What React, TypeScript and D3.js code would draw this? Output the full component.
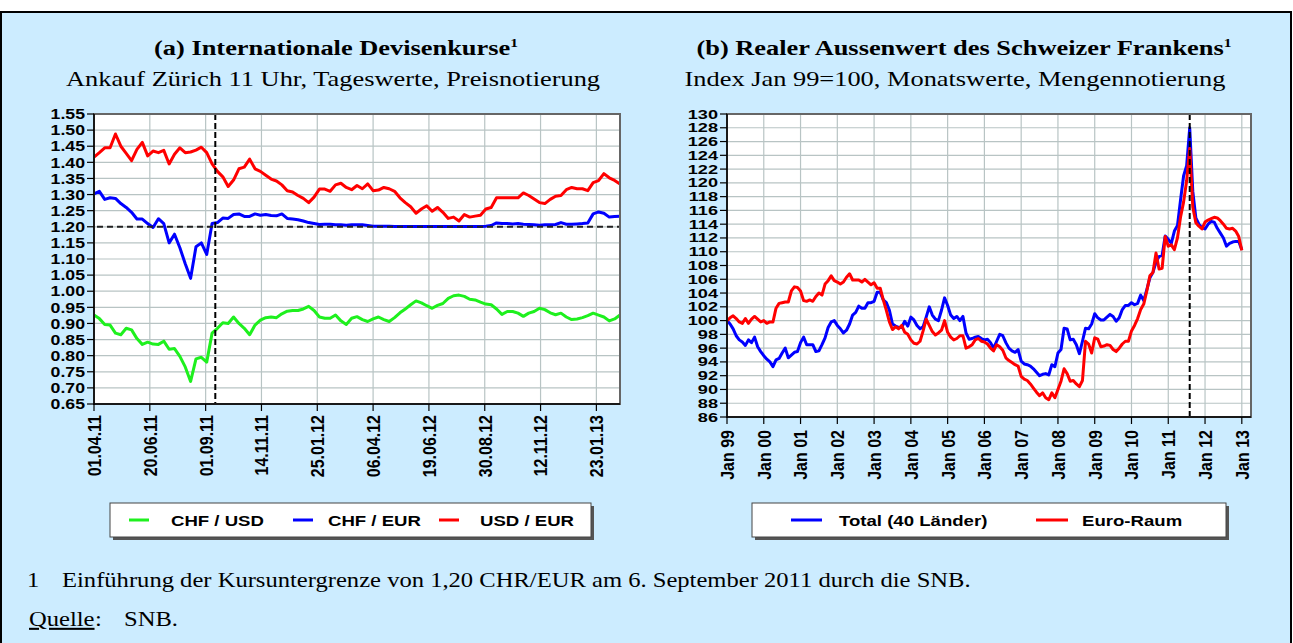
import React from 'react';
import * as d3 from 'd3';

// ---------- (a) daily FX rates, sampled weekly (5 trading days) ----------
const fxTickLabels = ['01.04.11', '20.06.11', '01.09.11', '14.11.11', '25.01.12', '06.04.12', '19.06.12', '30.08.12', '12.11.12', '23.01.13'];
const fxTickDays = [0, 52, 104, 156, 208, 260, 312, 364, 416, 468];
const fxYTicks = [0.65, 0.7, 0.75, 0.8, 0.85, 0.9, 0.95, 1.0, 1.05, 1.1, 1.15, 1.2, 1.25, 1.3, 1.35, 1.4, 1.45, 1.5, 1.55];
const fxFloorDay = 113;
const fxFloor = 1.2;
const fxStep = 5;

const usdEur = [
  1.416, 1.43, 1.445, 1.445, 1.488, 1.45, 1.428, 1.405, 1.44, 1.462,
  1.42, 1.435, 1.43, 1.437, 1.395, 1.425, 1.445, 1.43, 1.432, 1.438,
  1.447, 1.43, 1.395, 1.372, 1.355, 1.325, 1.345, 1.38, 1.385, 1.41,
  1.38, 1.372, 1.36, 1.348, 1.342, 1.33, 1.312, 1.308, 1.297, 1.288,
  1.275, 1.292, 1.317, 1.317, 1.31, 1.33, 1.335, 1.322, 1.315, 1.328,
  1.318, 1.333, 1.312, 1.314, 1.322, 1.318, 1.31, 1.29, 1.275, 1.262,
  1.242, 1.255, 1.265, 1.248, 1.26, 1.245, 1.226, 1.23, 1.218, 1.238,
  1.23, 1.233, 1.236, 1.255, 1.26, 1.29, 1.29, 1.29, 1.29, 1.29,
  1.305, 1.297, 1.286, 1.275, 1.272, 1.285, 1.295, 1.297, 1.315, 1.322,
  1.318, 1.318, 1.312, 1.337, 1.343, 1.365, 1.352, 1.344, 1.333,
];
const chfEur = [
  1.302, 1.31, 1.285, 1.29, 1.288, 1.272, 1.26, 1.245, 1.224, 1.224,
  1.21, 1.198, 1.225, 1.21, 1.15, 1.177, 1.135, 1.085, 1.04, 1.138,
  1.15, 1.114, 1.21, 1.213, 1.227, 1.226, 1.238, 1.24, 1.232, 1.232,
  1.24, 1.236, 1.238, 1.235, 1.234, 1.24, 1.226, 1.224, 1.222, 1.218,
  1.213, 1.21, 1.207, 1.208, 1.208, 1.206, 1.206, 1.205, 1.206, 1.206,
  1.206, 1.204, 1.202, 1.202, 1.202, 1.202, 1.201, 1.201, 1.201, 1.201,
  1.201, 1.201, 1.201, 1.201, 1.201, 1.201, 1.201, 1.201, 1.201, 1.201,
  1.201, 1.201, 1.201, 1.202, 1.204, 1.212, 1.21, 1.21, 1.209, 1.21,
  1.208, 1.207, 1.206, 1.205, 1.206, 1.206, 1.207, 1.213, 1.208, 1.208,
  1.209, 1.21, 1.212, 1.24, 1.246, 1.242, 1.23, 1.232, 1.233,
];
const chfUsd = [
  0.926, 0.915, 0.897, 0.895, 0.87, 0.865, 0.885, 0.88, 0.853, 0.835,
  0.842, 0.836, 0.835, 0.845, 0.82, 0.822, 0.798, 0.765, 0.72, 0.79,
  0.795, 0.78, 0.87, 0.885, 0.902, 0.9, 0.92, 0.9, 0.885, 0.865,
  0.895, 0.91, 0.918, 0.92, 0.918, 0.93, 0.938, 0.94, 0.94, 0.945,
  0.953, 0.94, 0.92, 0.916, 0.916, 0.926, 0.908, 0.897, 0.916, 0.921,
  0.912, 0.906, 0.914, 0.92, 0.912, 0.906, 0.918, 0.933, 0.945, 0.958,
  0.97, 0.964, 0.955, 0.947, 0.956, 0.962, 0.978, 0.986, 0.988, 0.984,
  0.975, 0.973, 0.966, 0.96, 0.958, 0.945, 0.928, 0.937, 0.937, 0.932,
  0.922, 0.932, 0.937, 0.947, 0.943, 0.933, 0.927, 0.932, 0.92, 0.912,
  0.914, 0.918, 0.924, 0.932, 0.926, 0.92, 0.908, 0.914, 0.926,
];

// ---------- (b) real effective CHF index, monthly Jan 99 .. Jan 13 ----------
const reerYears = ['99', '00', '01', '02', '03', '04', '05', '06', '07', '08', '09', '10', '11', '12', '13'];
const reerYTicks = [86, 88, 90, 92, 94, 96, 98, 100, 102, 104, 106, 108, 110, 112, 114, 116, 118, 120, 122, 124, 126, 128, 130];
const reerFloorMonth = 151;

const reerTotal = [
  100, 99.5, 98.8, 97.8, 97.2, 96.9, 96.4, 97.2, 96.8, 97.6,
  96.2, 95.5, 94.9, 94.4, 94.0, 93.3, 94.3, 94.5, 95.3, 96.0,
  94.6, 95.0, 95.4, 95.5, 96.8, 97.6, 96.5, 96.5, 96.5, 95.5,
  95.6, 96.5, 97.5, 99.0, 99.8, 100.0, 99.3, 98.8, 98.2, 98.6,
  99.5, 100.8, 101.2, 102.1, 101.8, 101.8, 102.6, 102.6, 102.8, 104.1,
  104.1, 103.0, 102.6, 101.5, 99.5, 99.2, 99.0, 99.0, 99.9, 99.2,
  100.5, 100.1, 99.3, 98.8, 99.1, 100.5, 102.0, 100.8, 100.2, 100.0,
  101.5, 103.3, 102.2, 100.8, 100.3, 100.6, 100.0, 100.6, 98.2, 97.3,
  97.4, 97.6, 97.7, 97.4, 97.2, 97.3, 96.8, 96.0, 97.0, 98.0,
  97.8, 96.8, 96.0, 95.6, 95.4, 95.8, 94.1, 93.7, 93.6, 93.4,
  93.0, 92.5, 92.0, 92.2, 92.3, 92.1, 93.6, 93.3, 95.3, 95.8,
  98.9, 98.8, 97.2, 97.3, 96.5, 95.2, 97.0, 98.9, 98.8, 99.5,
  101.0, 100.4, 100.1, 100.1, 100.5, 100.9, 100.6, 99.9, 100.4, 101.6,
  102.2, 102.2, 102.6, 102.3, 102.5, 103.7, 102.9, 104.5, 106.2, 107.0,
  108.5, 109.3, 109.5, 112.3, 111.8, 111.2, 113.0, 113.8, 117.5, 121.0,
  122.5, 128.0, 118.8, 114.9, 114.0, 113.5, 113.3, 114.0, 114.4, 114.3,
  113.4, 112.7, 112.0, 110.8, 111.2, 111.4, 111.5, 111.5, 110.3,
];
const reerEuro = [
  100, 100.4, 100.7, 100.3, 99.8, 99.6, 100.3, 99.6, 100.2, 100.6,
  100.2, 99.8, 100.0, 99.6, 99.8, 99.8, 101.8, 102.5, 102.6, 102.7,
  102.7, 104.3, 104.9, 104.8, 104.3, 102.9, 102.8, 103.0, 102.8, 103.5,
  104.0, 103.7, 105.3, 105.8, 106.5, 105.8, 105.6, 105.3, 105.6, 106.3,
  106.8, 105.9, 105.9, 105.9, 105.6, 106.0, 105.6, 105.2, 105.5, 104.7,
  104.7, 103.0, 101.5, 99.8, 98.7, 99.1, 98.8, 99.3, 98.3, 98.0,
  97.2, 96.7, 96.6, 97.0, 98.5, 100.2, 99.3, 98.4, 97.9, 98.2,
  98.6, 100.0, 98.3, 97.6, 97.2, 97.4, 97.8, 97.8, 96.0, 96.2,
  96.5, 97.2, 97.4, 97.0, 96.9, 96.6, 96.0, 95.6, 96.5, 96.2,
  95.7, 94.6, 94.2, 93.9, 93.6, 93.4, 91.9, 91.5, 91.3, 90.8,
  90.2, 89.6, 89.1, 89.5, 88.8, 88.5, 89.5, 88.8, 90.0, 91.2,
  93.0, 92.3, 91.2, 91.3, 90.8, 90.4, 91.3, 97.0, 96.6, 95.3,
  97.5, 97.3, 96.2, 96.3, 96.5, 96.4, 95.8, 95.5, 96.0, 96.6,
  97.0, 97.0, 98.5, 99.3, 100.3, 101.6, 102.4, 104.3, 106.5, 107.0,
  109.8, 107.5, 107.6, 112.2, 110.8, 111.0, 110.3, 112.0, 115.0, 117.2,
  120.3, 125.0, 116.5, 114.2, 113.7, 113.3, 114.3, 114.6, 114.8, 115.0,
  114.9, 114.5, 114.0, 113.4, 113.3, 113.4, 113.0, 112.2, 110.2,
];

// ---------- styling ----------
const S = 1.2; // horizontal text stretch of the original
const SANS = "'Liberation Sans', Arial, sans-serif";
const SERIF = "'Liberation Serif', 'Times New Roman', serif";
const BG = '#CCECFF';
const GRID = '#B8C4C4';
const GREEN = '#1EF01E';
const BLUE = '#0000FF';
const RED = '#FF0000';

function Txt(props: any) {
  const { x, y, size = 15, weight = 'bold', family = SANS, anchor = 'start', rotate = false, dy = 0, children, deco, sx = S } = props;
  return (
    <text
      transform={`translate(${x},${y}) scale(${sx},1)${rotate ? ' rotate(-90)' : ''}`}
      fontSize={size}
      fontWeight={weight}
      fontFamily={family}
      textAnchor={anchor}
      dy={dy}
      fill="#000"
      textDecoration={deco}
    >
      {children}
    </text>
  );
}

function Plot(props: any) {
  const { x0, x1, y0, y1, xs, ys, yTicks, yFmt, xTicks, xLabels, labelGap, ySize, ySx, children } = props;
  return (
    <g>
      <rect x={x0} y={y0} width={x1 - x0} height={y1 - y0} fill="#fff" />
      {yTicks.map((t: number, i: number) => (
        <line key={'gy' + i} x1={x0} x2={x1} y1={ys(t)} y2={ys(t)} stroke={GRID} strokeWidth={1.2} />
      ))}
      {xTicks.map((t: number, i: number) => (
        <line key={'gx' + i} x1={xs(t)} x2={xs(t)} y1={y0} y2={y1} stroke={GRID} strokeWidth={1.2} />
      ))}
      {children}
      <rect x={x0} y={y0} width={x1 - x0} height={y1 - y0} fill="none" stroke="#666" strokeWidth={2} />
      <line x1={x0} x2={x0} y1={y0} y2={y1 + 1} stroke="#000" strokeWidth={1.5} />
      <line x1={x0} x2={x1} y1={y1} y2={y1} stroke="#000" strokeWidth={1.5} />
      {yTicks.map((t: number, i: number) => (
        <g key={'ty' + i}>
          <line x1={x0 - 7} x2={x0} y1={ys(t)} y2={ys(t)} stroke="#000" strokeWidth={1.2} />
          <Txt x={x0 - 9} y={ys(t)} dy="0.36em" anchor="end" size={ySize} sx={ySx}>{yFmt(t)}</Txt>
        </g>
      ))}
      {xTicks.map((t: number, i: number) => (
        <g key={'tx' + i}>
          <line x1={xs(t)} x2={xs(t)} y1={y1} y2={y1 + 7} stroke="#000" strokeWidth={1.2} />
          <Txt x={xs(t)} y={y1 + labelGap} dy="0.36em" anchor="end" size={16} rotate>{xLabels[i]}</Txt>
        </g>
      ))}
    </g>
  );
}

export default function App() {
  // (a)
  const aX0 = 94, aX1 = 620, aY0 = 114, aY1 = 404;
  const xa = d3.scaleLinear().domain([0, 490]).range([aX0, aX1]);
  const ya = d3.scaleLinear().domain([0.65, 1.55]).range([aY1, aY0]);
  const lineA = d3.line<number>().x((_, i) => xa(i * fxStep)).y((v) => ya(v));

  // (b)
  const bX0 = 727, bX1 = 1251, bY0 = 114, bY1 = 417;
  const xb = d3.scaleLinear().domain([0, 171]).range([bX0, bX1]);
  const yb = d3.scaleLinear().domain([86, 130]).range([bY1, bY0]);
  const lineB = d3.line<number>().x((_, i) => xb(i)).y((v) => yb(v));
  const reerTickMonths = reerYears.map((_, i) => i * 12);

  const fs = 20.5;

  return (
    <svg width={1293} height={643} style={{ position: 'absolute', left: 0, top: 0, background: '#fff' }}>
      <rect x={1} y={12} width={1290} height={640} fill={BG} stroke="#000" strokeWidth={2} />

      {/* titles */}
      <Txt x={336} y={55} size={22} family={SERIF} anchor="middle">
        (a) Internationale Devisenkurse<tspan dy={-8} fontSize={13}>1</tspan>
      </Txt>
      <Txt x={333} y={86} size={22} weight="normal" family={SERIF} anchor="middle">
        Ankauf Zürich 11 Uhr, Tageswerte, Preisnotierung
      </Txt>
      <Txt x={964} y={55} size={22} family={SERIF} anchor="middle">
        (b) Realer Aussenwert des Schweizer Frankens<tspan dy={-8} fontSize={13}>1</tspan>
      </Txt>
      <Txt x={955} y={86} size={22} weight="normal" family={SERIF} anchor="middle">
        Index Jan 99=100, Monatswerte, Mengennotierung
      </Txt>

      {/* chart (a) */}
      <Plot
        x0={aX0} x1={aX1} y0={aY0} y1={aY1} xs={xa} ys={ya}
        yTicks={fxYTicks} yFmt={(t: number) => t.toFixed(2)}
        xTicks={fxTickDays} xLabels={fxTickLabels} labelGap={11} ySize={14.5} ySx={1.22}
      >
        <path d={lineA(usdEur) || ''} fill="none" stroke={RED} strokeWidth={3} strokeLinejoin="round" />
        <path d={lineA(chfEur) || ''} fill="none" stroke={BLUE} strokeWidth={3} strokeLinejoin="round" />
        <path d={lineA(chfUsd) || ''} fill="none" stroke={GREEN} strokeWidth={3} strokeLinejoin="round" />
        <line x1={aX0 + 3} x2={aX1} y1={ya(fxFloor)} y2={ya(fxFloor)} stroke="#222" strokeWidth={2} strokeDasharray="6,4" />
        <line x1={xa(fxFloorDay)} x2={xa(fxFloorDay)} y1={aY0} y2={aY1} stroke="#000" strokeWidth={2} strokeDasharray="6,3" />
      </Plot>

      {/* chart (b) */}
      <Plot
        x0={bX0} x1={bX1} y0={bY0} y1={bY1} xs={xb} ys={yb}
        yTicks={reerYTicks} yFmt={(t: number) => String(t)}
        xTicks={reerTickMonths} xLabels={reerYears.map((y) => 'Jan ' + y)} labelGap={13} ySize={12.5} ySx={1.45}
      >
        <path d={lineB(reerTotal) || ''} fill="none" stroke={BLUE} strokeWidth={3} strokeLinejoin="round" />
        <path d={lineB(reerEuro) || ''} fill="none" stroke={RED} strokeWidth={3} strokeLinejoin="round" />
        <line x1={xb(reerFloorMonth)} x2={xb(reerFloorMonth)} y1={bY0} y2={bY1} stroke="#000" strokeWidth={2} strokeDasharray="6,3" />
      </Plot>

      {/* legends */}
      <rect x={113} y={506} width={481} height={34} fill="#555" />
      <rect x={110} y={503} width={481} height={34} fill="#fff" stroke="#444" strokeWidth={1} />
      <line x1={129} x2={149} y1={520} y2={520} stroke={GREEN} strokeWidth={3} />
      <Txt x={171} y={526} size={15.5}>CHF / USD</Txt>
      <line x1={293} x2={313} y1={520} y2={520} stroke={BLUE} strokeWidth={3} />
      <Txt x={328} y={526} size={15.5}>CHF / EUR</Txt>
      <line x1={439} x2={459} y1={520} y2={520} stroke={RED} strokeWidth={3} />
      <Txt x={480} y={526} size={15.5}>USD / EUR</Txt>

      <rect x={755} y={506} width={474} height={34} fill="#555" />
      <rect x={752} y={503} width={474} height={34} fill="#fff" stroke="#444" strokeWidth={1} />
      <line x1={791} x2={822} y1={520} y2={520} stroke={BLUE} strokeWidth={3} />
      <Txt x={839} y={526} size={15.5}>Total (40 Länder)</Txt>
      <line x1={1036} x2={1068} y1={520} y2={520} stroke={RED} strokeWidth={3} />
      <Txt x={1082} y={526} size={15.5}>Euro-Raum</Txt>

      {/* footnotes */}
      <Txt x={27} y={587} size={fs} weight="normal" family={SERIF}>1</Txt>
      <Txt x={62} y={587} size={fs} weight="normal" family={SERIF}>
        Einführung der Kursuntergrenze von 1,20 CHR/EUR am 6. September 2011 durch die SNB.
      </Txt>
      <Txt x={29} y={626} size={fs} weight="normal" family={SERIF} deco="underline">Quelle</Txt>
      <Txt x={29 + 55 * S} y={626} size={fs} weight="normal" family={SERIF}>:</Txt>
      <Txt x={124} y={626} size={fs} weight="normal" family={SERIF}>SNB.</Txt>
    </svg>
  );
}
